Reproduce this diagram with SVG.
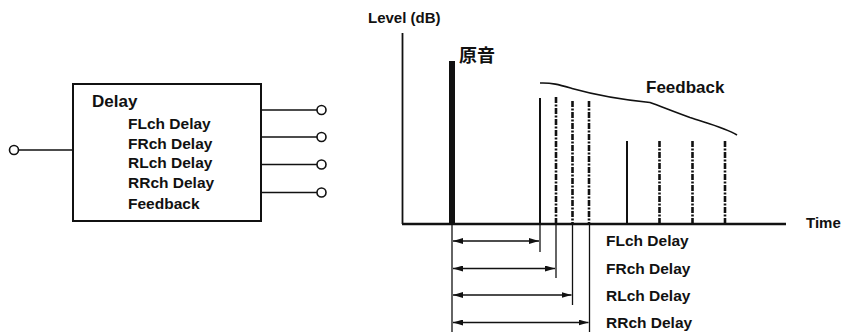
<svg xmlns="http://www.w3.org/2000/svg" width="841" height="334" viewBox="0 0 841 334">
<style>
text{font-family:"Liberation Sans",Arial,Helvetica,sans-serif;font-weight:bold;fill:#111}
.t{font-size:15.5px}
.big{font-size:17px}
.cjk{font-family:"Liberation Sans","Noto Sans CJK JP",sans-serif;font-size:18px}
.ln{stroke:#111;stroke-width:1.6;fill:none}
.term{stroke:#111;stroke-width:1.6;fill:#fff}
.dash{stroke:#111;stroke-width:2.6;fill:none;stroke-dasharray:6 1.5 2 1.5}
.sol{stroke:#111;stroke-width:2;fill:none}
.thin{stroke:#111;stroke-width:1.3;fill:none}
</style>
<defs>
<marker id="ah" viewBox="0 0 10 6" refX="10" refY="3" markerWidth="10" markerHeight="6" markerUnits="userSpaceOnUse" orient="auto-start-reverse">
<path d="M0,0 L10,3 L0,6 Z" fill="#111"/>
</marker>
</defs>

<g id="delay-box">
<rect x="73" y="84" width="188" height="137" fill="#fff" stroke="#111" stroke-width="2"/>
<text class="big" x="92" y="107">Delay</text>
<text class="t" x="128" y="129">FLch Delay</text>
<text class="t" x="128" y="148.5">FRch Delay</text>
<text class="t" x="128" y="168">RLch Delay</text>
<text class="t" x="128" y="188">RRch Delay</text>
<text class="t" x="128" y="208.5">Feedback</text>
</g>

<g id="connectors">
<line class="ln" x1="18" y1="150" x2="73" y2="150"/>
<line class="ln" x1="261" y1="110" x2="317" y2="110"/>
<line class="ln" x1="261" y1="137" x2="317" y2="137"/>
<line class="ln" x1="261" y1="164.5" x2="317" y2="164.5"/>
<line class="ln" x1="261" y1="192.5" x2="317" y2="192.5"/>
</g>

<g id="input-terminal"><circle class="term" cx="14" cy="150" r="4.5"/></g>
<g id="out-fl"><circle class="term" cx="321.5" cy="110" r="4.5"/></g>
<g id="out-fr"><circle class="term" cx="321.5" cy="137" r="4.5"/></g>
<g id="out-rl"><circle class="term" cx="321.5" cy="164.5" r="4.5"/></g>
<g id="out-rr"><circle class="term" cx="321.5" cy="192.5" r="4.5"/></g>

<g id="chart">
<text class="t" x="368" y="23" style="font-size:15px">Level (dB)</text>
<line x1="402.5" y1="33" x2="402.5" y2="224" stroke="#111" stroke-width="1.8"/>
<line x1="402" y1="224" x2="786" y2="224" stroke="#111" stroke-width="2.6"/>
<text class="t" x="806" y="228" style="font-size:15px">Time</text>

<rect x="449" y="61" width="6" height="163" fill="#111"/>
<text class="cjk" x="459" y="61.5">原音</text>

<line class="sol" x1="540" y1="98" x2="540" y2="224"/>
<line class="dash" x1="556" y1="97" x2="556" y2="224"/>
<line class="dash" x1="572.5" y1="101" x2="572.5" y2="224"/>
<line class="dash" x1="589" y1="101" x2="589" y2="224"/>

<line class="sol" x1="627" y1="141" x2="627" y2="224"/>
<line class="dash" x1="659.5" y1="141" x2="659.5" y2="224"/>
<line class="dash" x1="692.5" y1="141" x2="692.5" y2="224"/>
<line class="dash" x1="725" y1="141" x2="725" y2="224"/>

<path class="ln" d="M540,83 C552,82.5 560,85 572,88.5 C590,93.5 620,99.5 650,102.5 C660,106 672,111 690,117.5 C710,124 726,128 737,135"/>
<text class="big" x="646" y="93">Feedback</text>

<line class="thin" x1="452" y1="224" x2="452" y2="332"/>
<line class="thin" x1="540" y1="224" x2="540" y2="252"/>
<line class="thin" x1="556" y1="224" x2="556" y2="278"/>
<line class="thin" x1="572.5" y1="224" x2="572.5" y2="305"/>
<line class="thin" x1="589.5" y1="224" x2="589.5" y2="332"/>

<line class="thin" x1="453" y1="241" x2="539" y2="241" marker-start="url(#ah)" marker-end="url(#ah)"/>
<line class="thin" x1="453" y1="268.5" x2="555" y2="268.5" marker-start="url(#ah)" marker-end="url(#ah)"/>
<line class="thin" x1="453" y1="295" x2="571.5" y2="295" marker-start="url(#ah)" marker-end="url(#ah)"/>
<line class="thin" x1="453" y1="322.5" x2="588.5" y2="322.5" marker-start="url(#ah)" marker-end="url(#ah)"/>

<text class="t" x="606" y="246">FLch Delay</text>
<text class="t" x="606" y="273.5">FRch Delay</text>
<text class="t" x="606" y="300.5">RLch Delay</text>
<text class="t" x="606" y="327.5">RRch Delay</text>
</g>
</svg>
